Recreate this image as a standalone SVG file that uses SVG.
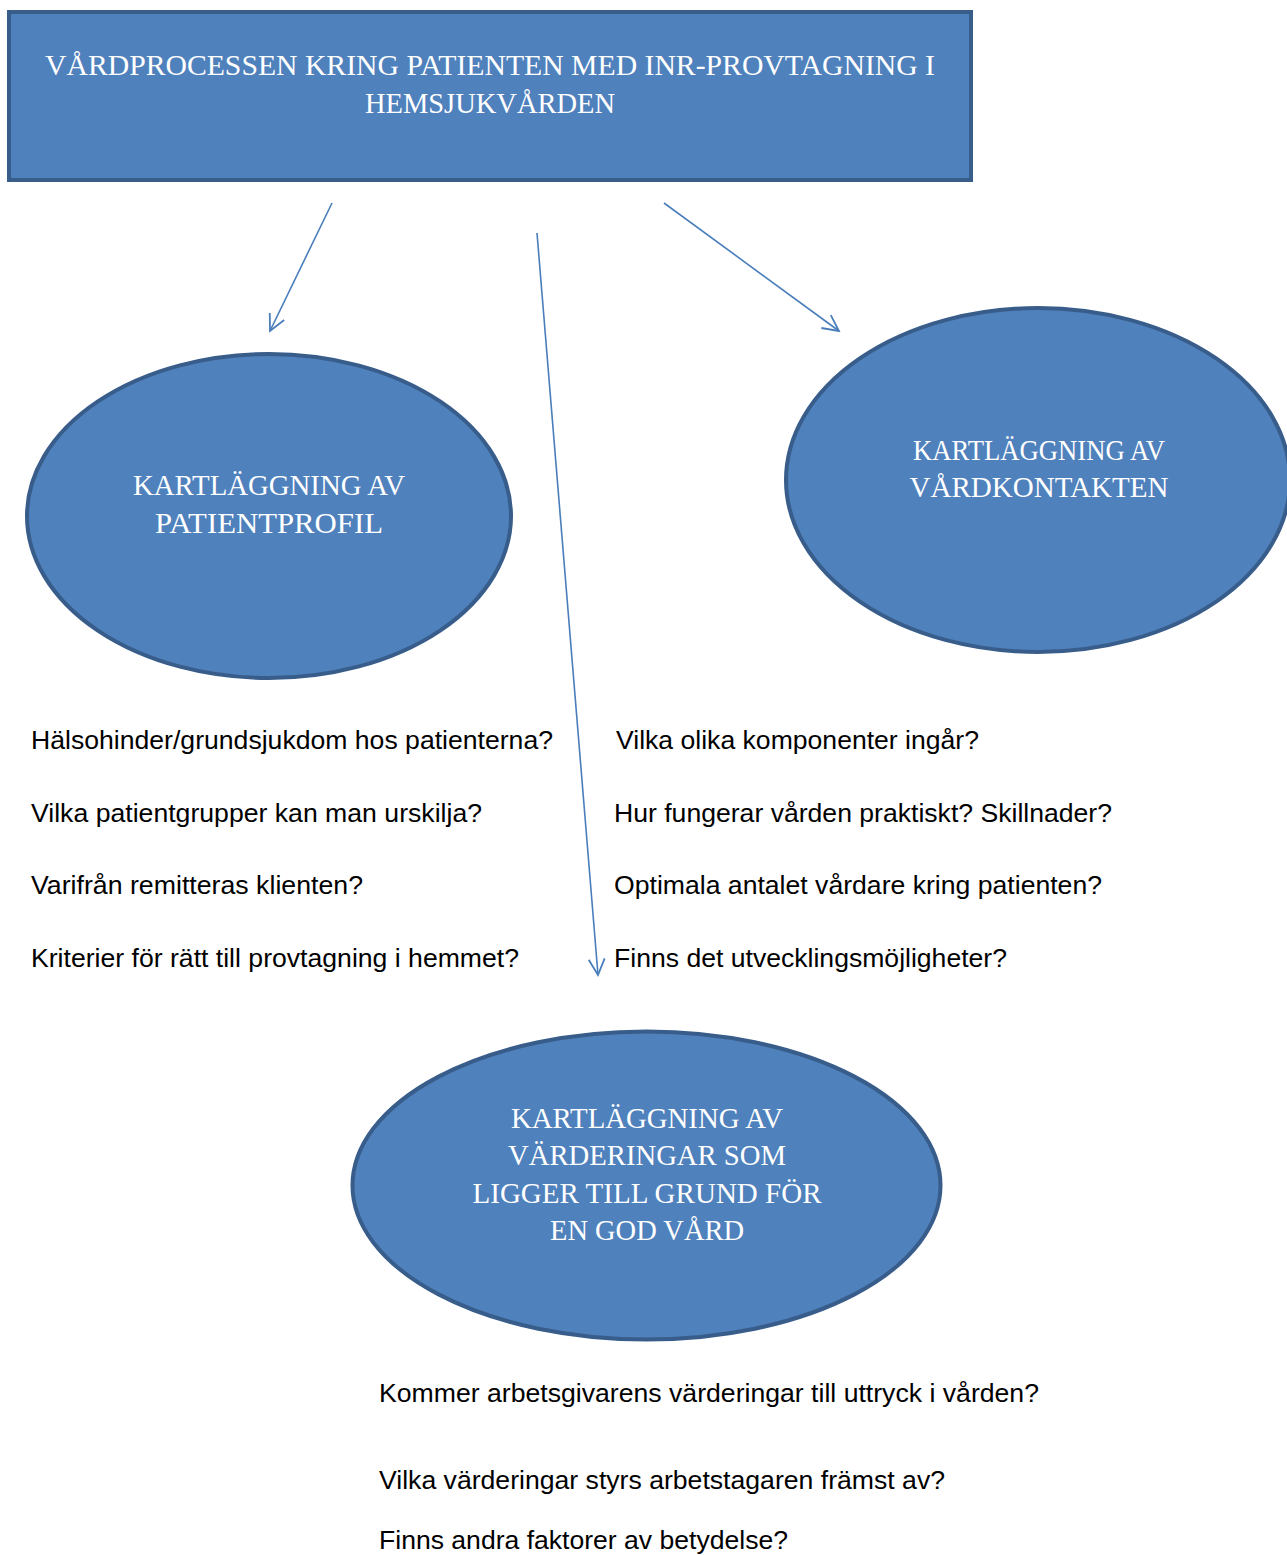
<svg xmlns="http://www.w3.org/2000/svg" width="1287" height="1555" viewBox="0 0 1287 1555">
<defs>
<style>
.shape{fill:#4f81bd;stroke:#385d8a;stroke-width:4}
.head{font-family:"Liberation Serif",serif;font-size:30px;fill:#ffffff;text-anchor:middle}
.q{font-family:"Liberation Sans",Arial,sans-serif;font-size:25.5px;fill:#000000}
.conn{stroke:#4a7ebb;stroke-width:1.6;fill:none}
</style>
<marker id="arr" viewBox="0 0 20 20" refX="18" refY="10" markerWidth="20" markerHeight="20" markerUnits="userSpaceOnUse" orient="auto">
<path d="M2,2 L18,10 L2,18" fill="none" stroke="#4a7ebb" stroke-width="1.8"/>
</marker>
</defs>
<rect width="1287" height="1555" fill="#ffffff"/>
<g id="connectors">
<line class="conn" x1="332" y1="203" x2="270" y2="331" marker-end="url(#arr)"/>
<line class="conn" x1="664" y1="203" x2="839" y2="331" marker-end="url(#arr)"/>
<line class="conn" x1="537" y1="233" x2="598" y2="975" marker-end="url(#arr)"/>
</g>
<g id="top">
<rect class="shape" x="9" y="12" width="962" height="168"/>
<text class="head" x="490" y="75" textLength="890" lengthAdjust="spacingAndGlyphs">VÅRDPROCESSEN KRING PATIENTEN MED INR-PROVTAGNING I</text>
<text class="head" x="490" y="113" textLength="250" lengthAdjust="spacingAndGlyphs">HEMSJUKVÅRDEN</text>
</g>
<g id="patientprofil">
<ellipse class="shape" cx="269" cy="516" rx="242" ry="162"/>
<text class="head" x="269" y="495" textLength="272" lengthAdjust="spacingAndGlyphs">KARTLÄGGNING AV</text>
<text class="head" x="269" y="533" textLength="228" lengthAdjust="spacingAndGlyphs">PATIENTPROFIL</text>
</g>
<g id="vardkontakten">
<ellipse class="shape" cx="1038" cy="480" rx="252" ry="172"/>
<text class="head" x="1039" y="460" textLength="252" lengthAdjust="spacingAndGlyphs">KARTLÄGGNING AV</text>
<text class="head" x="1039" y="497" textLength="259" lengthAdjust="spacingAndGlyphs">VÅRDKONTAKTEN</text>
</g>
<g id="varderingar">
<ellipse class="shape" cx="646.5" cy="1185.5" rx="294" ry="154"/>
<text class="head" x="647" y="1128" textLength="272" lengthAdjust="spacingAndGlyphs">KARTLÄGGNING AV</text>
<text class="head" x="647" y="1165" textLength="278" lengthAdjust="spacingAndGlyphs">VÄRDERINGAR SOM</text>
<text class="head" x="647" y="1203" textLength="349" lengthAdjust="spacingAndGlyphs">LIGGER TILL GRUND FÖR</text>
<text class="head" x="647" y="1240" textLength="194" lengthAdjust="spacingAndGlyphs">EN GOD VÅRD</text>
</g>
<g id="questions-left">
<text class="q" x="31" y="749" textLength="522" lengthAdjust="spacingAndGlyphs">Hälsohinder/grundsjukdom hos patienterna?</text>
<text class="q" x="31" y="822" textLength="451" lengthAdjust="spacingAndGlyphs">Vilka patientgrupper kan man urskilja?</text>
<text class="q" x="31" y="894" textLength="332" lengthAdjust="spacingAndGlyphs">Varifrån remitteras klienten?</text>
<text class="q" x="31" y="967" textLength="488" lengthAdjust="spacingAndGlyphs">Kriterier för rätt till provtagning i hemmet?</text>
</g>
<g id="questions-right">
<text class="q" x="616" y="749" textLength="363" lengthAdjust="spacingAndGlyphs">Vilka olika komponenter ingår?</text>
<text class="q" x="614" y="822" textLength="498" lengthAdjust="spacingAndGlyphs">Hur fungerar vården praktiskt? Skillnader?</text>
<text class="q" x="614" y="894" textLength="488" lengthAdjust="spacingAndGlyphs">Optimala antalet vårdare kring patienten?</text>
<text class="q" x="614" y="967" textLength="393" lengthAdjust="spacingAndGlyphs">Finns det utvecklingsmöjligheter?</text>
</g>
<g id="questions-bottom">
<text class="q" x="379" y="1402" textLength="660" lengthAdjust="spacingAndGlyphs">Kommer arbetsgivarens värderingar till uttryck i vården?</text>
<text class="q" x="379" y="1489" textLength="566" lengthAdjust="spacingAndGlyphs">Vilka värderingar styrs arbetstagaren främst av?</text>
<text class="q" x="379" y="1549" textLength="409" lengthAdjust="spacingAndGlyphs">Finns andra faktorer av betydelse?</text>
</g>
</svg>
